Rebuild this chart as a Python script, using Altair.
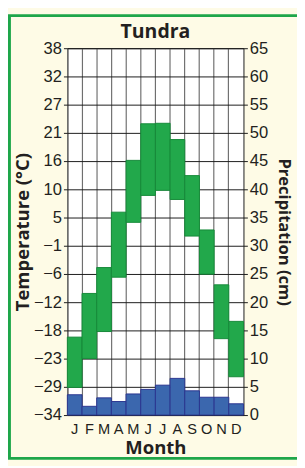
import altair as alt
import pandas as pd

months = ["Jan", "Feb", "Mar", "Apr", "May", "Jun", "Jul", "Aug", "Sep", "Oct", "Nov", "Dec"]
month_letters = ["J", "F", "M", "A", "M", "J", "J", "A", "S", "O", "N", "D"]
temp_low = [-29.0, -23.3, -18.0, -7.3, 3.5, 8.8, 9.8, 8.0, 0.8, -6.7, -19.4, -26.9]
temp_high = [-19.1, -10.5, -5.4, 5.5, 15.7, 22.9, 23.0, 19.8, 12.7, 2.0, -8.8, -16.0]
precip = [3.6, 1.55, 3.05, 2.4, 3.74, 4.55, 5.3, 6.5, 4.3, 3.16, 3.16, 2.0]
temp_labels_bottom_up = ["−34", "−29", "−23", "−18", "−12", "−6", "−1", "5", "10", "16", "21", "27", "32", "38"]
fahrenheit_ticks = [-30, -20, -10, 0, 10, 20, 30, 40, 50, 60, 70, 80, 90, 100]
precip_ticks = [0, 5, 10, 15, 20, 25, 30, 35, 40, 45, 50, 55, 60, 65]

temp_ticks = [(f - 32) * 5 / 9 for f in fahrenheit_ticks]

df = pd.DataFrame({
    "month": months,
    "low": temp_low,
    "high": temp_high,
    "precip": precip,
})

W, H = 181, 377
LABEL_FONT = "Liberation Sans"
TITLE_FONT = "Open Sans"
TXT = "#231f20"

letter_map = "{" + ",".join(f"'{m}':'{l}'" for m, l in zip(months, month_letters)) + "}"
temp_label_arr = "[" + ",".join(f"'{s}'" for s in temp_labels_bottom_up) + "]"

x_enc = alt.X(
    "month:N",
    sort=months,
    scale=alt.Scale(domain=months, paddingInner=0, paddingOuter=0),
    axis=alt.Axis(
        title="Month", labelExpr=f"{letter_map}[datum.value]", labelAngle=0,
        ticks=False, domain=False, grid=True, bandPosition=0,
        gridColor="#6f6f6f", gridWidth=1.2, gridOpacity=1,
        labelFont=LABEL_FONT, labelFontSize=15, labelColor=TXT, labelPadding=7,
        titleFont=TITLE_FONT, titleFontSize=19, titleFontWeight="bold", titleColor=TXT,
        titleX=W / 2, titleY=33, titleBaseline="middle", titleAlign="center",
    ),
)

temp_bars = alt.Chart(df).mark_bar(
    color="#22a84b", stroke="#178a3a", strokeWidth=1
).encode(
    x=x_enc,
    y=alt.Y(
        "low:Q",
        scale=alt.Scale(domain=[temp_ticks[0], temp_ticks[-1]], nice=False, zero=False),
        axis=alt.Axis(
            orient="left", values=temp_ticks, title="Temperature (°C)",
            labelExpr=f"{temp_label_arr}[round((datum.value*1.8+62)/10)]",
            grid=True, gridColor="#1a1a1a", gridWidth=1, gridOpacity=1,
            domain=False, tickSize=4, tickColor="#1a1a1a", labelPadding=2,
            labelFont=LABEL_FONT, labelFontSize=17, labelColor=TXT, labelBaseline="middle",
            titleFont=TITLE_FONT, titleFontSize=19, titleFontWeight="bold", titleColor=TXT,
            titleAngle=270, titleX=-46, titleY=H / 2, titleAlign="center", titleBaseline="middle",
        ),
    ),
    y2="high:Q",
)

precip_bars = alt.Chart(df).mark_bar(
    color="#3b67ae", stroke="#2b3590", strokeWidth=1
).encode(
    x=alt.X("month:N", sort=months),
    y=alt.Y(
        "precip:Q",
        scale=alt.Scale(domain=[0, 65], nice=False, zero=True),
        axis=alt.Axis(
            orient="right", values=precip_ticks, title="Precipitation (cm)",
            grid=False, domain=False, tickSize=4, tickColor="#1a1a1a", labelPadding=2,
            labelFont=LABEL_FONT, labelFontSize=17, labelColor=TXT, labelBaseline="middle",
            titleFont=TITLE_FONT, titleFontSize=17, titleFontWeight="bold", titleColor=TXT,
            titleAngle=90, titleX=41, titleY=H / 2, titleAlign="center", titleBaseline="middle",
        ),
    ),
)

frame = alt.Chart(pd.DataFrame({"f": [0]})).mark_rect(
    fillOpacity=0, stroke="#1ea64a", strokeWidth=3
).encode(
    x=alt.value(-59.5), x2=alt.value(250), y=alt.value(-33.5), y2=alt.value(421.5)
)

chart = alt.layer(temp_bars, precip_bars, frame).resolve_scale(
    y="independent"
).properties(
    width=W, height=H,
    title=alt.TitleParams("Tundra", font=TITLE_FONT, fontSize=20, fontWeight="bold",
                          color=TXT, anchor="middle", frame="group",
                          baseline="alphabetic", offset=11, dy=55),
    padding={"left": 61, "top": 35, "right": 55, "bottom": 46},
    autosize=alt.AutoSizeParams(type="none"),
    background="#fefbe6",
).configure_view(fill="white", stroke="#1a1a1a", strokeWidth=1)

chart.save("out.html", embed_options={"renderer": "svg", "actions": False})
